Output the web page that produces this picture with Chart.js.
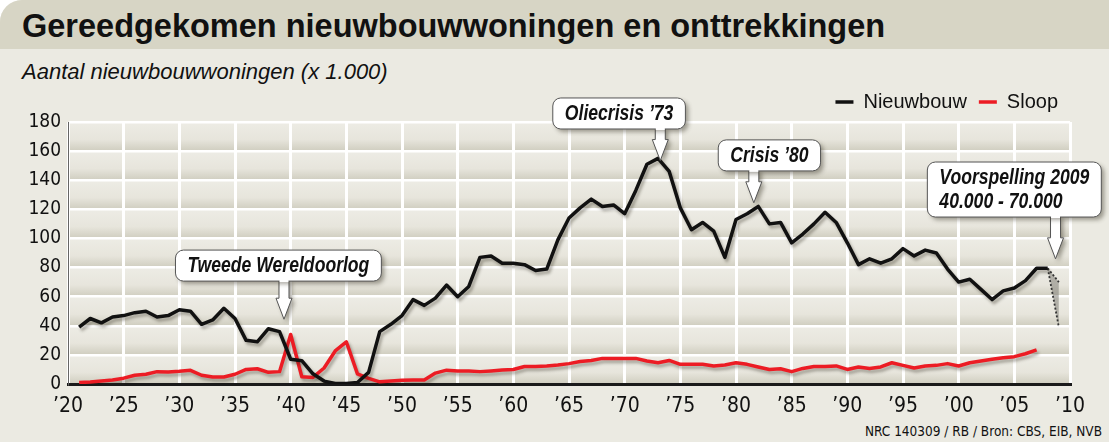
<!DOCTYPE html>
<html lang="nl">
<head>
<meta charset="utf-8">
<title>Gereedgekomen nieuwbouwwoningen en onttrekkingen</title>
<script src="https://cdn.jsdelivr.net/npm/chart.js@4.4.1/dist/chart.umd.min.js"></script>
<style>
  html, body { margin: 0; padding: 0; }
  body { width: 1109px; height: 442px; background: #fff; position: relative; overflow: hidden;
         font-family: 'Liberation Sans', Arial, sans-serif; }
  #paneel { position: absolute; left: 0; top: 0; width: 1109px; height: 442px; background: #ebeae2;
            border-top-left-radius: 22px; overflow: hidden; }
  #kop { position: absolute; left: 0; top: 0; width: 1109px; height: 49px; background: #d7d5c5; }
  #kop h1 { margin: 0; position: absolute; left: 22px; top: 10px; font-size: 32.5px; line-height: 32px;
            font-weight: bold; color: #111; white-space: nowrap; }
  #sub { position: absolute; left: 22px; top: 61px; font-size: 22px; line-height: 22px; font-style: italic;
         color: #111; white-space: nowrap; }
  #bron { position: absolute; right: 7px; top: 424px; font-family: 'DejaVu Sans Condensed', sans-serif;
          font-size: 13.5px; line-height: 15px; color: #111; white-space: nowrap; }
  #grafiek { position: absolute; left: 0; top: 80px; width: 1109px; height: 340px; }
</style>
</head>
<body>
<div id="paneel">
  <div id="kop"><h1>Gereedgekomen nieuwbouwwoningen en onttrekkingen</h1></div>
  <div id="sub">Aantal nieuwbouwwoningen (x 1.000)</div>
  <div id="grafiek"><canvas id="c"></canvas></div>
  <div id="bron">NRC 140309 / RB / Bron: CBS, EIB, NVB</div>
</div>
<script>
const smal = "'DejaVu Sans Condensed', 'Liberation Sans', sans-serif";

// jaren 1921 - 2008
const jaren = [
  1921, 1922, 1923, 1924, 1925, 1926, 1927, 1928, 1929, 1930,
  1931, 1932, 1933, 1934, 1935, 1936, 1937, 1938, 1939, 1940,
  1941, 1942, 1943, 1944, 1945, 1946, 1947, 1948, 1949, 1950,
  1951, 1952, 1953, 1954, 1955, 1956, 1957, 1958, 1959, 1960,
  1961, 1962, 1963, 1964, 1965, 1966, 1967, 1968, 1969, 1970,
  1971, 1972, 1973, 1974, 1975, 1976, 1977, 1978, 1979, 1980,
  1981, 1982, 1983, 1984, 1985, 1986, 1987, 1988, 1989, 1990,
  1991, 1992, 1993, 1994, 1995, 1996, 1997, 1998, 1999, 2000,
  2001, 2002, 2003, 2004, 2005, 2006, 2007, 2008
];

// x 1.000 woningen
const nieuwbouw = [
  39, 45, 42, 46, 47, 49, 50, 46, 47, 51,
  50, 41, 44, 52, 45, 30, 29, 38, 36, 17,
  16, 7, 2, 0.3, 0.3, 1, 8, 36, 41, 47,
  58, 54, 59, 68, 60, 67, 87, 88, 83, 83,
  82, 78, 79, 99, 114, 121, 127, 122, 123, 117,
  133, 151, 155, 146, 121, 106, 111, 105, 87, 113,
  117, 122, 110, 111, 97, 103, 110, 118, 111, 97,
  82, 86, 83, 86, 93, 88, 92, 90, 79, 70,
  72, 65, 58, 64, 66, 71, 79.5, 79.5
];

// sloop loopt tot en met 2007
const sloop = [
  1, 1.4, 2, 2.7, 4, 6, 6.7, 8.5, 8.2, 8.7,
  9.4, 6, 4.8, 4.8, 6.7, 10, 10.5, 8, 8.5, 34,
  5, 4.5, 11, 22.7, 29, 7, 3.9, 1.5, 2, 2.5,
  2.7, 2.7, 7.5, 9.5, 9, 9, 8.5, 9, 9.6, 10,
  12, 12, 12.4, 13, 14, 15.5, 16.2, 17.6, 17.6, 17.6,
  17.6, 15.8, 14.6, 16.2, 13.5, 13.5, 13.5, 12.4, 13, 14.6,
  13.5, 11.7, 10, 10.5, 8.5, 10.7, 12, 12, 12.4, 10,
  11.7, 10.7, 11.7, 14.6, 12.8, 11, 12.4, 12.8, 14, 12.4,
  14.6, 15.8, 17, 18, 18.8, 20.8, 23.4
];

// voorspelling 2009: 40.000 - 70.000
const prognoseJaren = [2008, 2009];
const prognoseHoog = [79.5, 70];
const prognoseLaag = [79.5, 39];

const yTicks = [0, 20, 40, 60, 80, 100, 120, 140, 160, 180];

// toelichtingen: tekst, punt van de pijl, midden/bovenkant van het kader
const annTeksten = [['Tweede Wereldoorlog'], ['Oliecrisis \u201973'], ['Crisis \u201980'], ['Voorspelling 2009', '40.000 - 70.000']];
const annPijlJaar = [1939.4, 1973.2, 1981.6, 2008.7];
const annPijlWaarde = [44.5, 153.5, 124.5, 86];
const annKaderJaar = [1938.9, 1969.5, 1983.0, 2005.0];
const annKaderWaarde = [92, 196.5, 167.7, 152.5];

const punten = (xs, ys) => ys.map((v, i) => ({ x: xs[i], y: v }));

const achtergrond = {
  id: 'achtergrond',
  beforeDraw(chart) {
    const { ctx, chartArea: a, scales: { y } } = chart;
    ctx.save();
    for (let i = 0; i < yTicks.length - 1; i++) {
      const onder = y.getPixelForValue(yTicks[i]);
      const boven = y.getPixelForValue(yTicks[i + 1]);
      const g = ctx.createLinearGradient(0, boven, 0, onder);
      g.addColorStop(0, '#edece5');
      g.addColorStop(0.6, '#e7e5dc');
      g.addColorStop(1, '#cfcdbf');
      ctx.fillStyle = g;
      ctx.fillRect(a.left, boven, a.right - a.left, onder - boven);
    }
    ctx.restore();
  }
};

const schaduw = {
  id: 'schaduw',
  beforeDatasetDraw(chart, args) {
    const ctx = chart.ctx;
    ctx.save();
    if (args.index < 2) {
      ctx.shadowColor = 'rgba(40,35,20,0.35)';
      ctx.shadowBlur = 3;
      ctx.shadowOffsetX = 2;
      ctx.shadowOffsetY = 3;
    }
  },
  afterDatasetDraw(chart) {
    chart.ctx.restore();
  }
};

// tekst in de kaders is smal (condensed): horizontaal schalen
const KRIMP = 0.8;

const kaders = {
  id: 'kaders',
  afterDatasetsDraw(chart) {
    const { ctx, scales: { x, y } } = chart;
    ctx.save();
    ctx.font = 'italic bold 22px "Liberation Sans", Arial, sans-serif';
    annTeksten.forEach((regels, i) => {
      const breedte = Math.max(...regels.map(r => ctx.measureText(r).width)) * KRIMP + 24;
      const hoogte = regels.length * 24 + 7;
      const links = x.getPixelForValue(annKaderJaar[i]) - breedte / 2;
      const boven = y.getPixelForValue(annKaderWaarde[i]);
      const px = x.getPixelForValue(annPijlJaar[i]);
      const py = y.getPixelForValue(annPijlWaarde[i]);
      const kop = py - 21;

      ctx.shadowColor = 'rgba(60,55,40,0.45)';
      ctx.shadowBlur = 4;
      ctx.shadowOffsetX = 3;
      ctx.shadowOffsetY = 3;

      // pijl
      ctx.beginPath();
      ctx.moveTo(px - 5, boven + hoogte - 2);
      ctx.lineTo(px - 5, kop);
      ctx.lineTo(px - 8, kop);
      ctx.lineTo(px, py);
      ctx.lineTo(px + 8, kop);
      ctx.lineTo(px + 5, kop);
      ctx.lineTo(px + 5, boven + hoogte - 2);
      ctx.closePath();
      ctx.fillStyle = '#fff';
      ctx.fill();
      ctx.shadowColor = 'transparent';
      ctx.lineWidth = 1;
      ctx.strokeStyle = '#555';
      ctx.stroke();

      // kader
      ctx.shadowColor = 'rgba(60,55,40,0.45)';
      ctx.beginPath();
      ctx.roundRect(links, boven, breedte, hoogte, 8);
      ctx.fillStyle = '#fff';
      ctx.fill();
      ctx.shadowColor = 'transparent';
      ctx.strokeStyle = '#555';
      ctx.stroke();
      ctx.fillStyle = '#fff';
      ctx.fillRect(px - 4.5, boven + hoogte - 3, 9, 4);

      ctx.fillStyle = '#111';
      ctx.textBaseline = 'middle';
      ctx.textAlign = 'left';
      regels.forEach((r, k) => {
        ctx.save();
        ctx.translate(links + 12, boven + 16 + k * 24);
        ctx.scale(KRIMP, 1);
        ctx.fillText(r, 0, 0);
        ctx.restore();
      });
    });
    ctx.restore();
  }
};

new Chart(document.getElementById('c'), {
  type: 'line',
  data: {
    datasets: [
      {
        label: 'Nieuwbouw',
        data: punten(jaren, nieuwbouw),
        borderColor: '#111',
        backgroundColor: '#111',
        borderWidth: 3.5,
        pointRadius: 0,
        pointStyle: 'line',
        tension: 0,
        borderJoinStyle: 'round'
      },
      {
        label: 'Sloop',
        data: punten(jaren, sloop),
        borderColor: '#ec1c24',
        backgroundColor: '#ec1c24',
        borderWidth: 3.5,
        pointRadius: 0,
        pointStyle: 'line',
        tension: 0,
        borderJoinStyle: 'round'
      },
      {
        label: 'Prognose hoog',
        data: punten(prognoseJaren, prognoseHoog),
        borderColor: '#333',
        borderWidth: 1.8,
        borderDash: [2, 2],
        pointRadius: 0,
        tension: 0
      },
      {
        label: 'Prognose laag',
        data: punten(prognoseJaren, prognoseLaag),
        borderColor: '#333',
        borderWidth: 1.8,
        borderDash: [2, 2],
        pointRadius: 0,
        tension: 0,
        fill: '-1',
        backgroundColor: 'rgba(130,128,120,0.55)'
      }
    ]
  },
  options: {
    responsive: true,
    maintainAspectRatio: false,
    animation: false,
    layout: { padding: { left: 0, right: 39, top: 0, bottom: 0 } },
    plugins: {
      legend: {
        position: 'top',
        align: 'end',
        labels: {
          usePointStyle: true,
          pointStyleWidth: 18,
          color: '#111',
          font: { family: 'Liberation Sans, Arial, sans-serif', size: 20 },
          padding: 12,
          filter: item => item.datasetIndex < 2
        }
      },
      tooltip: { enabled: false }
    },
    scales: {
      x: {
        type: 'linear',
        min: 1920,
        max: 2010,
        afterFit: s => { s.height = 36; },
        ticks: {
          stepSize: 5,
          padding: 10,
          color: '#111',
          font: { family: smal, size: 21 },
          maxRotation: 0,
          callback: v => '\u2019' + String(v % 100).padStart(2, '0')
        },
        grid: { color: '#fff', lineWidth: 3, drawTicks: false },
        border: { color: '#1a1a1a', width: 3 }
      },
      y: {
        min: 0,
        max: 180,
        afterFit: s => { s.width = 68; },
        afterBuildTicks: s => { s.ticks = yTicks.map(v => ({ value: v })); },
        ticks: {
          padding: 7,
          color: '#111',
          font: { family: smal, size: 19 }
        },
        grid: { color: '#fff', lineWidth: 2.5, drawTicks: false },
        border: { color: '#666', width: 1 }
      }
    }
  },
  plugins: [achtergrond, schaduw, kaders]
});
</script>
</body>
</html>
